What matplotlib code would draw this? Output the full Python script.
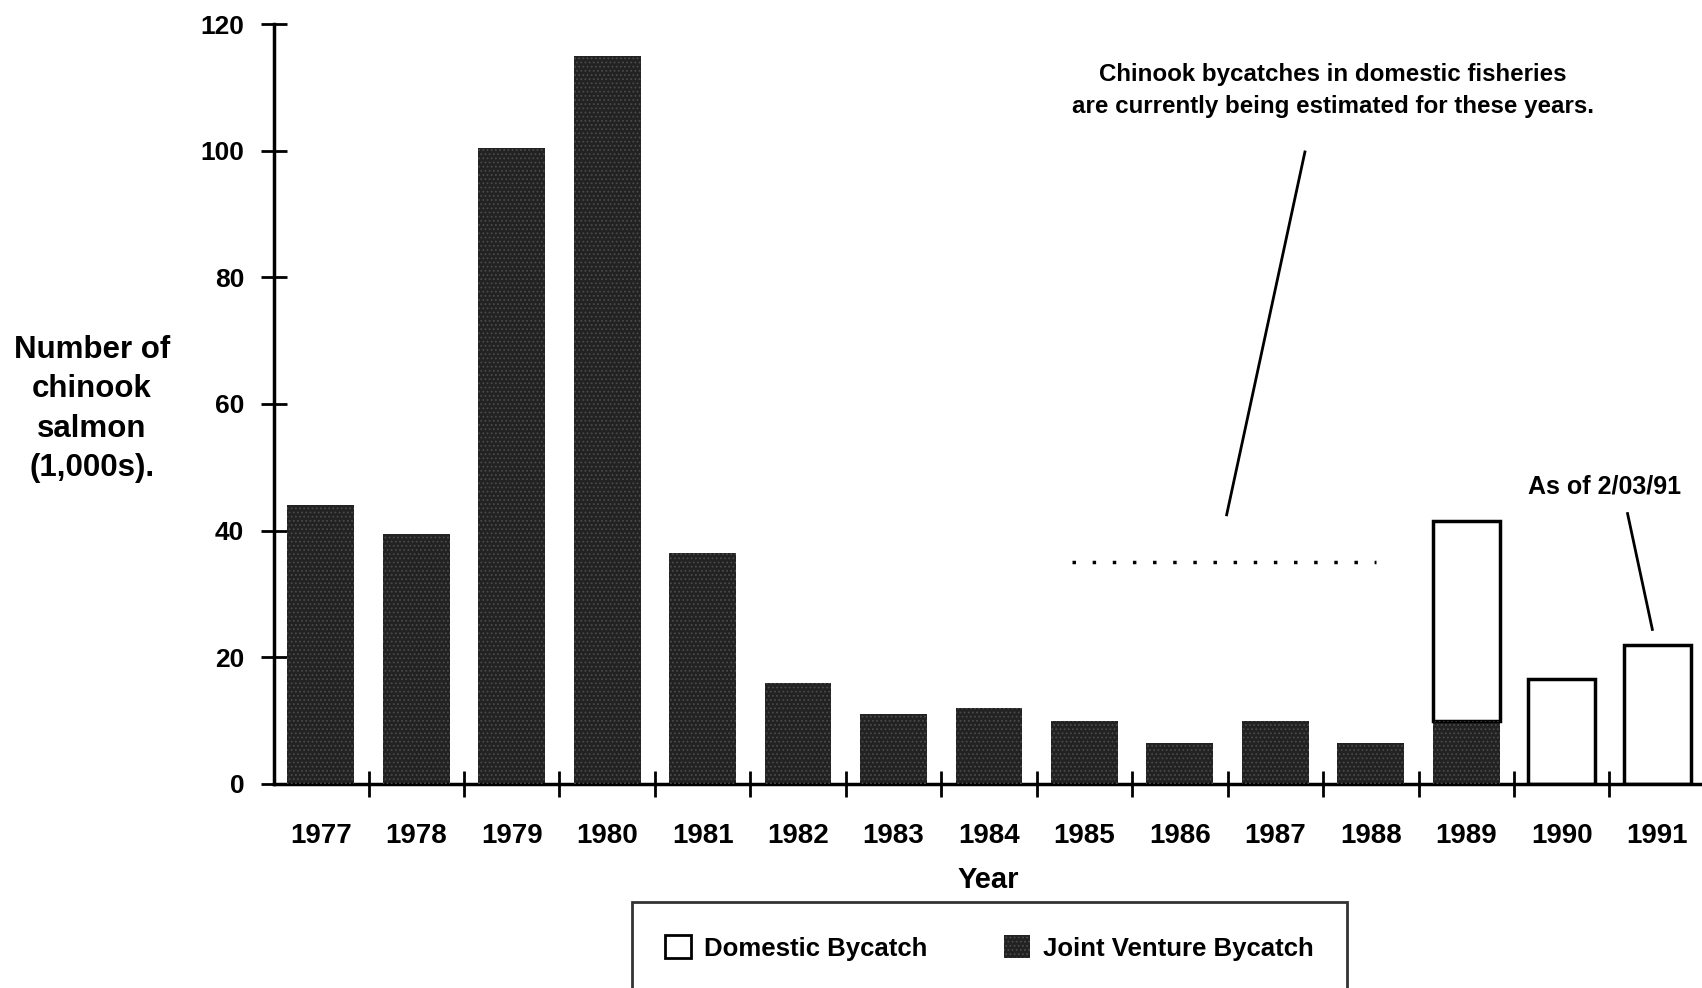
import matplotlib
matplotlib.use("Agg")
import matplotlib.pyplot as plt
from matplotlib.patches import Patch
import numpy as np

# data (thousands of fish)
years = ["1977", "1978", "1979", "1980", "1981", "1982", "1983", "1984",
         "1985", "1986", "1987", "1988", "1989", "1990", "1991"]
joint_venture = [44, 39.5, 100.5, 115, 36.5, 16, 11, 12,
                 10, 6.5, 10, 6.5, 10, 0, 0]
domestic = [0, 0, 0, 0, 0, 0, 0, 0, 0, 0, 0, 0, 31.5, 16.5, 22]
estimate_level = 35   # dotted line 1985-1988
note_years = "Chinook bycatches in domestic fisheries\nare currently being estimated for these years."
note_1991 = "As of 2/03/91"

plt.rcParams["font.family"] = ["Liberation Sans", "DejaVu Sans"]
plt.rcParams["hatch.linewidth"] = 0.8

fig = plt.figure(figsize=(17.02, 9.88), dpi=100)
ax = fig.add_axes([0.161, 0.2065, 0.839, 0.7692])

x = np.arange(len(years))
jv = np.array(joint_venture)
dom = np.array(domestic)
dark = "#222222"

# joint venture bars (dark, speckled)
ax.bar(x, jv, width=0.7, color=dark, edgecolor="none", zorder=2)
ax.bar(x, jv, width=0.7, fill=False, hatch="....", edgecolor="#4a4a4a",
       linewidth=0, zorder=3)
# domestic on top, open bars
mask = dom > 0
ax.bar(x[mask], dom[mask], bottom=jv[mask], width=0.7, facecolor="white",
       edgecolor="black", linewidth=2.5, zorder=2)

ax.set_xlim(-0.49, 14.47)
ax.set_ylim(0, 120)

# axes look
for s in ["top", "right"]:
    ax.spines[s].set_visible(False)
ax.spines["left"].set_linewidth(2.5)
ax.spines["bottom"].set_linewidth(2.5)

ax.set_yticks(np.arange(0, 121, 20))
ax.tick_params(axis="y", direction="inout", length=19, width=2, pad=12,
               labelsize=19)
for t in ax.get_yticklabels():
    t.set_fontweight("bold")

# ticks between bars, labels under bars
ax.set_xticks(np.arange(0.5, 14, 1))
ax.set_xticklabels([])
ax.tick_params(axis="x", which="major", direction="inout", length=19, width=2)
ax.set_xticks(x, labels=years, minor=True)
ax.tick_params(axis="x", which="minor", length=0, pad=28)
for t in ax.get_xticklabels(minor=True):
    t.set_fontweight("bold")
    t.set_fontsize(20)

ax.set_xlabel("Year", fontsize=21, fontweight="bold", labelpad=12)
fig.text(0.054, 0.586, "Number of\nchinook\nsalmon\n(1,000s).", ha="center",
         va="center", fontsize=22.5, fontweight="bold", linespacing=1.4)

# estimate note with leader line and dotted line
ax.plot([7.875, 11.05], [estimate_level, estimate_level], color="black",
        lw=2.5, ls=(0, (1, 4.8)))
ax.plot([10.31, 9.49], [99.8, 42.5], color="black", lw=2)
ax.text(10.6, 109.5, note_years, ha="center", va="center", fontsize=17.4,
        fontweight="bold", linespacing=1.55)

ax.plot([13.69, 13.95], [42.7, 24.4], color="black", lw=2)
ax.text(13.45, 47.0, note_1991, ha="center", va="center", fontsize=18,
        fontweight="bold")

# legend
handles = [Patch(facecolor="white", edgecolor="black", linewidth=2),
           Patch(facecolor=dark, edgecolor="#4a4a4a", hatch="....", linewidth=0)]
leg = fig.legend(handles, ["Domestic Bycatch", "Joint Venture Bycatch"],
                 loc="lower center", bbox_to_anchor=(0.5814, -0.019), ncol=2,
                 fontsize=18.5, frameon=True, fancybox=False, edgecolor="black",
                 handlelength=1.0, handleheight=1.0, handletextpad=0.5,
                 columnspacing=3.0, borderpad=1.3)
leg.get_frame().set_linewidth(2)
for t in leg.get_texts():
    t.set_fontweight("bold")

fig.savefig("out.png", dpi=100, facecolor="white")
